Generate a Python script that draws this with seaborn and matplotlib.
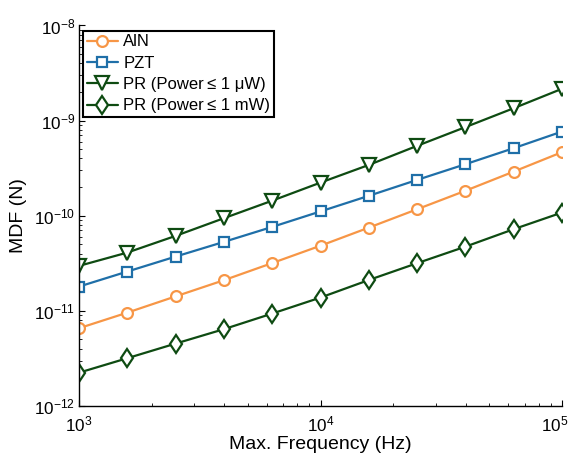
import matplotlib
matplotlib.use("Agg")
import matplotlib.pyplot as plt
import matplotlib.transforms as mtransforms
import seaborn as sns
import pandas as pd
from matplotlib.ticker import LogLocator, NullFormatter

# Maximum frequency sweep (Hz)
freq = [1.0e3, 1.585e3, 2.512e3, 3.981e3, 6.310e3, 1.0e4,
        1.585e4, 2.512e4, 3.981e4, 6.310e4, 1.0e5]

# Minimum detectable force (N) for each technology
mdf_aln = [6.57e-12, 9.58e-12, 1.42e-11, 2.10e-11, 3.18e-11, 4.84e-11,
           7.50e-11, 1.17e-10, 1.83e-10, 2.91e-10, 4.66e-10]
mdf_pzt = [1.80e-11, 2.59e-11, 3.72e-11, 5.31e-11, 7.63e-11, 1.11e-10,
           1.62e-10, 2.38e-10, 3.48e-10, 5.13e-10, 7.67e-10]
mdf_pr_uw = [2.97e-11, 4.10e-11, 6.14e-11, 9.42e-11, 1.44e-10, 2.23e-10,
             3.42e-10, 5.43e-10, 8.54e-10, 1.35e-9, 2.16e-9]
mdf_pr_mw = [2.24e-12, 3.18e-12, 4.53e-12, 6.42e-12, 9.37e-12, 1.38e-11,
             2.11e-11, 3.17e-11, 4.73e-11, 7.22e-11, 1.08e-10]

labels = ["AlN", "PZT", "PR (Power\u2009\u2264 1 \u03bcW)", "PR (Power\u2009\u2264 1 mW)"]
series = [mdf_aln, mdf_pzt, mdf_pr_uw, mdf_pr_mw]
colors = ["#F79646", "#1F6FA8", "#0E4B12", "#0E4B12"]
markers = ["o", "s", "v", "d"]
msizes = [7.8, 6.8, 9.5, 9.5]

sns.set_theme(style="ticks")
plt.rcParams["font.family"] = ["Liberation Sans", "DejaVu Sans"]
plt.rcParams["mathtext.fontset"] = "custom"
plt.rcParams["mathtext.rm"] = "Liberation Sans"
plt.rcParams["mathtext.it"] = "Liberation Sans:italic"
plt.rcParams["text.color"] = "black"
plt.rcParams["axes.labelcolor"] = "black"

fig = plt.figure(figsize=(5.76, 4.59), dpi=100)
ax = fig.add_axes([0.1372, 0.1155, 0.8385, 0.829])

for lab, vals, col, mk, ms in zip(labels, series, colors, markers, msizes):
    df = pd.DataFrame({"freq": freq, "mdf": vals})
    sns.lineplot(data=df, x="freq", y="mdf", ax=ax, color=col, label=lab,
                 marker=mk, markersize=ms, markerfacecolor="white",
                 markeredgecolor=col, markeredgewidth=1.6, linewidth=1.6)

ax.set_xscale("log")
ax.set_yscale("log")
ax.set_xlim(1e3, 1e5)
ax.set_ylim(1e-12, 1e-8)
ax.set_xticks([1e3, 1e4, 1e5])
ax.set_yticks([1e-12, 1e-11, 1e-10, 1e-9, 1e-8])
ax.xaxis.set_minor_locator(LogLocator(base=10, subs=range(2, 10)))
ax.yaxis.set_minor_locator(LogLocator(base=10, subs=range(2, 10)))
ax.xaxis.set_minor_formatter(NullFormatter())
ax.yaxis.set_minor_formatter(NullFormatter())
ax.xaxis.get_offset_text().set_visible(False)
ax.yaxis.get_offset_text().set_visible(False)

for s in ["top", "right"]:
    ax.spines[s].set_visible(False)
for s in ["left", "bottom"]:
    ax.spines[s].set_linewidth(1.0)
    ax.spines[s].set_color("black")

ax.tick_params(which="major", direction="in", length=4.5, width=0.8,
               labelsize=12.3, colors="black")
ax.tick_params(which="minor", direction="in", length=2.5, width=0.6, colors="black",
               labelbottom=False, labelleft=False)
ax.tick_params(axis="y", which="major", pad=3)
ax.tick_params(axis="x", which="major", pad=6)

ax.set_xlabel("Max. Frequency (Hz)", fontsize=14, labelpad=1)
ax.set_ylabel("MDF (N)", fontsize=14, labelpad=5)

leg = ax.legend(loc="upper left", bbox_to_anchor=(0.008, 0.986), borderaxespad=0,
                fontsize=12, frameon=True, fancybox=False, framealpha=1,
                edgecolor="black", handlelength=1.9, handletextpad=0.3,
                labelspacing=0.38, borderpad=0.22)
leg.get_frame().set_linewidth(1.5)

# keep the right-most frequency label inside the figure
fig.canvas.draw()
last = ax.get_xticklabels()[-1]
last.set_transform(last.get_transform() +
                   mtransforms.ScaledTranslation(-5 / 72, 0, fig.dpi_scale_trans))

fig.savefig("out.png", dpi=100)
